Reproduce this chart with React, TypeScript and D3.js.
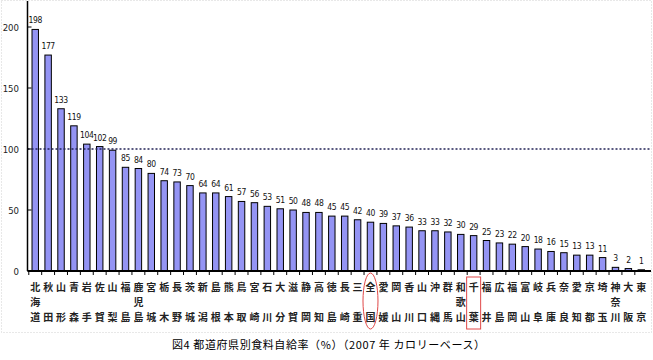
import React from "react";
import * as d3 from "d3";

// 都道府県別食料自給率 (2007年 カロリーベース)
const prefectures = [
  "北海道", "秋田", "山形", "青森", "岩手", "佐賀", "山梨", "福島", "鹿児島", "宮城",
  "栃木", "長野", "茨城", "新潟", "島根", "熊本", "鳥取", "宮崎", "石川", "大分",
  "滋賀", "静岡", "高知", "徳島", "長崎", "三重", "全国", "愛媛", "岡山", "香川",
  "山口", "沖縄", "群馬", "和歌山", "千葉", "福井", "広島", "福岡", "富山", "岐阜",
  "兵庫", "奈良", "愛知", "京都", "埼玉", "神奈川", "大阪", "東京",
];
const rates = [
  198, 177, 133, 119, 104, 102, 99, 85, 84, 80,
  74, 73, 70, 64, 64, 61, 57, 56, 53, 51,
  50, 48, 48, 45, 45, 42, 40, 39, 37, 36,
  33, 33, 32, 30, 29, 25, 23, 22, 20, 18,
  16, 15, 13, 13, 11, 3, 2, 1,
];
const yTicks = [0, 50, 100, 150, 200];
const circled = "全国";
const boxed = "千葉";
const title = "図4  都道府県別食料自給率（%）（2007 年  カロリーベース）";

const W = 653;
const H = 360;
const left = 27.5;
const right = 649;
const base = 271;

const App = () => {
  const x = d3.scaleBand<string>()
    .domain(prefectures)
    .range([left, right])
    .paddingInner(0.5)
    .paddingOuter(0.35);
  const y = d3.scaleLinear().domain([0, 220]).range([base, 2.6]);
  const step = x.step();
  const bw = x.bandwidth();
  const cx = (p: string) => (x(p) as number) + bw / 2;

  const jpFont = "'Noto Sans CJK JP', sans-serif";
  const numFont = "'DejaVu Sans Condensed', 'Liberation Sans Narrow', sans-serif";

  return (
    <svg width={W} height={H} style={{ position: "absolute", left: 0, top: 0, background: "#fff" }}>
      {/* faint chart frame */}
      <rect x={1.5} y={0.5} width={650} height={332} fill="none" stroke="#d0d0d0" strokeDasharray="1,2" />

      {/* bars */}
      {prefectures.map((p, i) => (
        <rect
          key={p}
          x={x(p)}
          y={y(rates[i])}
          width={bw}
          height={base - y(rates[i])}
          fill="#9494f4"
          stroke="#000"
          strokeWidth={1}
        />
      ))}

      {/* 100% reference line */}
      <line x1={left} x2={right + 2} y1={y(100)} y2={y(100)} stroke="#222255" strokeWidth={1.5} strokeDasharray="2,2" />

      {/* y axis */}
      <line x1={left} x2={left} y1={1} y2={base} stroke="#000" strokeWidth={1.5} />
      {yTicks.map((t) => (
        <g key={t}>
          <line x1={left} x2={left + 4} y1={y(t)} y2={y(t)} stroke="#000" />
          <text x={19} y={y(t) + 3.5} textAnchor="end" fontSize={9.5} fontFamily={numFont} fill="#222">
            {t}
          </text>
        </g>
      ))}

      {/* x axis */}
      <line x1={left} x2={right + 2} y1={base} y2={base} stroke="#000" strokeWidth={2} />
      {prefectures.map((p) => (
        <line key={p} x1={(x(p) as number) - step * 0.25} x2={(x(p) as number) - step * 0.25} y1={base} y2={base + 4} stroke="#000" />
      ))}

      {/* value labels */}
      {prefectures.map((p, i) => (
        <text
          key={p}
          x={cx(p)}
          y={y(rates[i]) - 6}
          textAnchor="middle"
          fontSize={8.5}
          letterSpacing={-0.4}
          fontFamily={numFont}
          fill="#111"
        >
          {rates[i]}
        </text>
      ))}

      {/* category labels, stacked vertically */}
      {prefectures.map((p) => {
        const chars = Array.from(p);
        const rows = chars.length === 2 ? [0, 2] : [0, 1, 2];
        return chars.map((c, k) => (
          <text
            key={p + k}
            x={cx(p)}
            y={291 + rows[k] * 15}
            textAnchor="middle"
            fontSize={10}
            fontWeight={700}
            fontFamily={jpFont}
            fill="#222"
          >
            {c}
          </text>
        ));
      })}

      {/* highlights */}
      <ellipse cx={cx(circled)} cy={301} rx={7.5} ry={28} fill="none" stroke="#e04848" strokeWidth={1} />
      <rect x={cx(boxed) - 7} y={277} width={14} height={52} fill="none" stroke="#e04848" strokeWidth={1} />

      {/* caption */}
      <text x={172} y={349} fontSize={11} fontFamily={jpFont} fill="#000" textLength={313} lengthAdjust="spacing">
        {title}
      </text>
    </svg>
  );
};

export default App;
